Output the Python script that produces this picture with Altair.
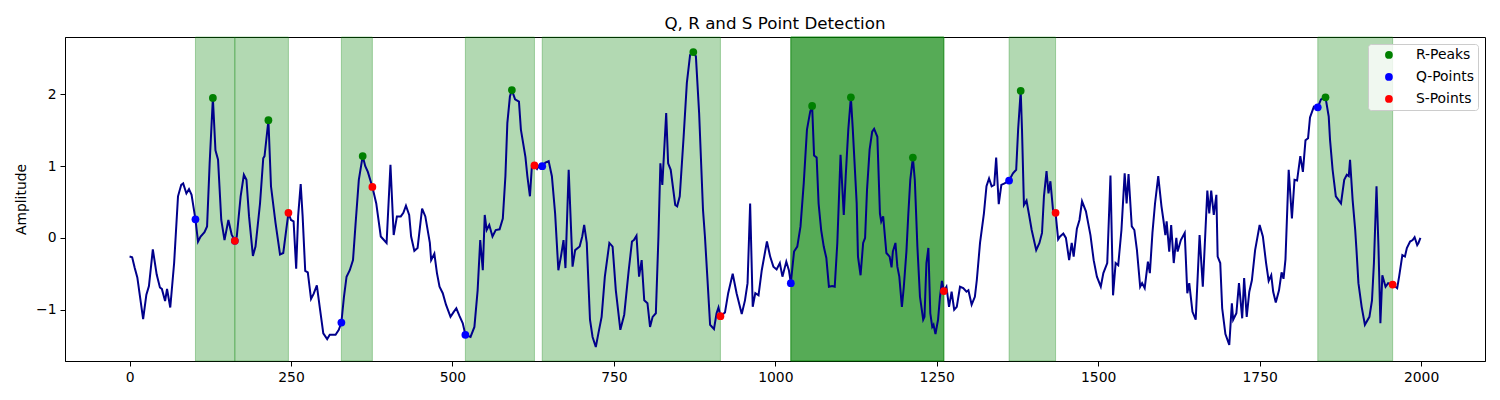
import pandas as pd
import altair as alt

# ECG-like signal (sample index, amplitude)
signal_x = [
    0, 4, 8, 12, 21, 26, 30, 36, 42, 47, 50, 55, 58, 63, 69, 75, 80, 83, 88, 92,
    96, 102, 106, 110, 116, 120, 124, 129, 133, 137, 142, 147, 153, 158, 163, 166, 172, 177, 181, 185,
    191, 195, 202, 207, 209, 215, 219, 226, 233, 238, 246, 250, 254, 258, 261, 265, 268, 272, 276, 281,
    285, 290, 295, 300, 306, 310, 319, 324, 328, 332, 336, 341, 346, 350, 355, 361, 365, 369, 376, 382,
    389, 398, 404, 409, 414, 420, 424, 428, 433, 436, 441, 446, 453, 458, 465, 467, 472, 476, 480, 485,
    490, 497, 502, 506, 511, 516, 520, 528, 534, 539, 543, 547, 550, 553, 557, 562, 567, 573, 578, 582,
    585, 589, 592, 597, 603, 606, 613, 616, 620, 623, 627, 631, 635, 639, 644, 649, 654, 659, 664, 668,
    672, 675, 680, 686, 690, 697, 701, 704, 708, 713, 717, 722, 726, 731, 736, 743, 748, 753, 760, 766,
    773, 778, 781, 785, 789, 793, 797, 802, 806, 810, 815, 819, 822, 825, 831, 834, 838, 845, 848, 852,
    858, 863, 868, 873, 877, 882, 888, 891, 895, 899, 905, 909, 912, 915, 922, 927, 934, 940, 948, 953,
    957, 961, 965, 969, 974, 979, 987, 992, 997, 1002, 1007, 1011, 1017, 1021, 1024, 1029, 1034, 1039, 1044, 1049,
    1054, 1057, 1060, 1064, 1067, 1071, 1075, 1079, 1083, 1088, 1092, 1096, 1101, 1106, 1109, 1113, 1117, 1120, 1126, 1128,
    1132, 1136, 1139, 1142, 1146, 1150, 1153, 1158, 1162, 1164, 1167, 1172, 1177, 1180, 1182, 1186, 1189, 1192, 1196, 1199,
    1203, 1206, 1209, 1213, 1216, 1220, 1224, 1229, 1231, 1234, 1237, 1240, 1243, 1245, 1248, 1252, 1255, 1258, 1261, 1265,
    1269, 1273, 1277, 1281, 1286, 1291, 1296, 1299, 1304, 1309, 1312, 1317, 1323, 1327, 1331, 1335, 1339, 1342, 1346, 1350,
    1355, 1362, 1368, 1373, 1376, 1380, 1382, 1385, 1389, 1393, 1397, 1404, 1409, 1413, 1416, 1420, 1423, 1426, 1430, 1434,
    1438, 1441, 1446, 1450, 1455, 1459, 1462, 1467, 1471, 1475, 1481, 1488, 1493, 1498, 1504, 1508, 1514, 1519, 1523, 1527,
    1531, 1536, 1541, 1544, 1547, 1552, 1556, 1560, 1565, 1568, 1572, 1577, 1580, 1584, 1588, 1593, 1598, 1601, 1604, 1606,
    1610, 1613, 1617, 1621, 1623, 1628, 1634, 1638, 1641, 1646, 1651, 1657, 1662, 1669, 1672, 1675, 1679, 1683, 1685, 1689,
    1692, 1697, 1703, 1707, 1709, 1714, 1718, 1723, 1726, 1730, 1734, 1738, 1743, 1750, 1755, 1760, 1764, 1768, 1771, 1775,
    1780, 1784, 1787, 1790, 1795, 1800, 1804, 1808, 1813, 1817, 1821, 1825, 1828, 1834, 1840, 1845, 1852, 1857, 1859, 1863,
    1868, 1872, 1876, 1881, 1885, 1888, 1890, 1894, 1898, 1900, 1903, 1908, 1913, 1920, 1924, 1927, 1931, 1934, 1937, 1940,
    1945, 1949, 1956, 1963, 1966, 1971, 1975, 1978, 1983, 1987, 1990, 1994, 1996, 1999,
]
signal_y = [
    -0.26, -0.27, -0.42, -0.55, -1.13, -0.79, -0.67, -0.16, -0.51, -0.69, -0.71, -0.88, -0.71, -0.97, -0.35, 0.58, 0.74, 0.76, 0.62, 0.68,
    0.60, 0.26, -0.05, 0.02, 0.08, 0.16, 1.04, 1.95, 1.22, 1.09, 0.25, -0.03, 0.25, 0.05, -0.04, 0.02, 0.58, 0.88, 0.81, 0.30,
    -0.25, -0.12, 0.48, 1.11, 1.14, 1.64, 0.72, 0.21, -0.23, -0.21, 0.35, 0.25, 0.23, -0.43, 0.30, 0.75, 0.30, -0.46, -0.48, -0.85,
    -0.78, -0.66, -1.00, -1.33, -1.41, -1.35, -1.35, -1.28, -1.18, -0.82, -0.54, -0.45, -0.31, 0.20, 0.81, 1.14, 1.00, 0.92, 0.71, 0.48,
    0.02, -0.07, 1.02, 0.04, 0.30, 0.30, 0.35, 0.45, 0.32, 0.02, -0.18, -0.14, 0.41, 0.30, -0.07, -0.31, -0.22, -0.49, -0.68, -0.77,
    -0.93, -1.10, -1.03, -0.98, -1.09, -1.19, -1.35, -1.38, -1.24, -0.73, -0.03, -0.45, 0.32, 0.11, 0.18, 0.02, 0.11, 0.12, 0.27, 0.86,
    1.60, 1.97, 2.06, 1.93, 1.90, 1.51, 1.13, 0.86, 0.58, 1.00, 1.01, 0.96, 1.02, 1.00, 1.05, 1.07, 0.86, 0.34, -0.45, -0.26,
    -0.03, -0.42, 0.95, -0.40, -0.17, -0.12, 0.02, 0.18, -0.07, -1.14, -1.38, -1.52, -1.33, -1.10, -0.54, -0.07, -0.12, -0.73, -1.28, -1.07,
    -0.45, -0.05, -0.03, 0.03, -0.54, -0.31, -0.87, -0.91, -1.24, -1.10, -1.05, 0.02, 1.04, 0.74, 1.74, 1.04, 0.95, 0.46, 0.44, 0.58,
    1.41, 2.16, 2.55, 2.59, 2.53, 1.74, 0.39, 0.02, -0.59, -1.21, -1.27, -1.05, -0.97, -1.09, -1.04, -0.77, -0.50, -0.77, -1.06, -0.87,
    -0.63, 0.48, -0.96, -0.77, -0.80, -0.45, -0.05, -0.26, -0.40, -0.44, -0.35, -0.54, -0.33, -0.45, -0.63, -0.19, -0.12, 0.16, 0.76, 1.51,
    1.76, 1.84, 1.15, 1.12, 0.48, 0.11, -0.12, -0.28, -0.68, -0.67, -0.68, -0.07, 1.16, 0.32, 0.86, 1.51, 1.96, 1.51, 0.48, -0.26,
    -0.52, -0.07, 0.00, 0.67, 1.23, 1.48, 1.52, 1.41, 0.34, 0.23, 0.30, -0.21, -0.26, -0.41, -0.19, -0.07, -0.40, -0.54, -0.96, -0.68,
    -0.19, 0.34, 0.81, 1.12, 0.81, -0.12, -0.82, -1.14, -1.10, -0.35, -0.14, -1.05, -1.24, -1.21, -1.34, -1.14, -0.82, -0.60, -0.74, -0.68,
    -0.96, -0.75, -1.00, -0.96, -0.68, -0.70, -0.75, -0.73, -0.93, -0.82, -0.59, -0.07, 0.34, 0.72, 0.83, 0.72, 0.74, 1.12, 0.47, 0.74,
    0.76, 0.80, 0.90, 0.95, 1.51, 2.05, 1.51, 0.46, 0.52, 0.32, 0.11, -0.17, -0.07, 0.07, 0.58, 0.93, 0.62, 0.79, 0.39, 0.35,
    -0.02, 0.02, 0.06, 0.00, -0.31, -0.07, -0.26, 0.13, 0.25, 0.51, 0.37, 0.04, -0.31, -0.54, -0.68, -0.49, -0.35, 0.87, -0.80, -0.35,
    -0.38, 0.11, 0.90, 0.48, 0.89, 0.16, 0.11, -0.17, -0.68, -0.63, -0.70, -0.33, -0.49, 0.07, 0.48, 0.86, 0.44, 0.25, 0.04, 0.23,
    -0.19, 0.18, -0.35, 0.00, -0.19, -0.03, 0.07, -0.77, -0.63, -1.03, -1.14, 0.04, -0.68, 0.66, 0.34, 0.66, 0.32, 0.60, -0.26, -0.35,
    -0.98, -1.34, -1.49, -0.91, -1.14, -1.05, -0.63, -1.12, -0.56, -1.10, -0.75, -0.59, -0.17, 0.18, 0.02, -0.35, -0.60, -0.52, -0.75, -0.90,
    -0.73, -0.48, -0.57, -0.30, 0.95, 0.27, 0.81, 0.80, 1.14, 0.92, 1.36, 1.39, 1.68, 1.83, 1.82, 1.93, 1.96, 1.69, 1.37, 0.95,
    0.58, 0.53, 0.48, 0.81, 0.88, 0.86, 1.09, 0.53, 0.11, -0.17, -0.63, -0.96, -1.21, -1.10, -0.87, -0.35, 0.72, -0.12, -1.19, -0.52,
    -0.68, -0.63, -0.65, -0.70, -0.54, -0.24, -0.26, -0.14, -0.05, -0.03, 0.01, -0.10, -0.07, 0.00,
]

# detected points
r_x = [129, 215, 361, 592, 873, 1057, 1117, 1213, 1380, 1852]
r_y = [1.95, 1.64, 1.14, 2.06, 2.59, 1.84, 1.96, 1.12, 2.05, 1.96]
q_x = [102, 163, 328, 520, 639, 1024, 1362, 1840]
q_y = [0.26, -0.04, -1.18, -1.35, 1.00, -0.63, 0.80, 1.82]
s_x = [163, 246, 376, 627, 915, 1261, 1434, 1956]
s_y = [-0.04, 0.35, 0.71, 1.01, -1.09, -0.74, 0.35, -0.65]

# QRS spans (Q -> S), the 1024-1261 one is drawn three times
span_start = [102, 163, 328, 520, 639, 1024, 1024, 1024, 1362, 1840]
span_end = [163, 246, 376, 627, 915, 1261, 1261, 1261, 1434, 1956]

FONT = "DejaVu Sans"

signal = pd.DataFrame({"x": signal_x, "y": signal_y})
spans = pd.DataFrame({"start": span_start, "end": span_end})
points = pd.concat([
    pd.DataFrame({"x": r_x, "y": r_y, "kind": "R-Peaks"}),
    pd.DataFrame({"x": q_x, "y": q_y, "kind": "Q-Points"}),
    pd.DataFrame({"x": s_x, "y": s_y, "kind": "S-Points"}),
], ignore_index=True)

x_scale = alt.Scale(domain=[-100, 2099], nice=False, zero=False)
y_scale = alt.Scale(domain=[-1.715, 2.80], nice=False, zero=False)

x_axis = alt.Axis(values=list(range(0, 2001, 250)), format="d", title=None, grid=False)
y_axis = alt.Axis(values=[-1, 0, 1, 2], format="d", title="Amplitude", grid=False,
                  labelExpr="replace(datum.label, '-', '\u2212')")

shade = alt.Chart(spans).mark_rect(
    color="green", fillOpacity=0.3, stroke="green", strokeOpacity=0.3, strokeWidth=1
).encode(
    x=alt.X("start:Q", scale=x_scale, axis=x_axis),
    x2="end:Q",
    y=alt.value(0),
    y2=alt.value(324),
)

line = alt.Chart(signal).mark_line(color="#00008b", strokeWidth=2).encode(
    x=alt.X("x:Q", scale=x_scale, axis=x_axis),
    y=alt.Y("y:Q", scale=y_scale, axis=y_axis),
)

dots = alt.Chart(points).mark_point(filled=True, opacity=1, size=60, shape="circle").encode(
    x=alt.X("x:Q", scale=x_scale),
    y=alt.Y("y:Q", scale=y_scale),
    color=alt.Color("kind:N",
                    scale=alt.Scale(domain=["R-Peaks", "Q-Points", "S-Points"],
                                    range=["green", "blue", "red"]),
                    legend=alt.Legend(title=None)),
)

chart = alt.layer(shade, line, dots).properties(
    width=1420,
    height=324,
    autosize=alt.AutoSizeParams(type="none"),
    padding={"left": 57, "top": 29, "right": 7, "bottom": 31},
    title=alt.TitleParams("Q, R and S Point Detection", font=FONT, fontSize=16.7,
                          fontWeight="normal", color="black", offset=4),
).configure_view(
    stroke="black", strokeWidth=1
).configure_axis(
    labelFont=FONT, labelFontSize=13.9, labelColor="black",
    titleFont=FONT, titleFontSize=13.9, titleFontWeight="normal", titleColor="black",
    domainColor="black", tickColor="black", tickSize=5, labelPadding=4,
).configure_axisY(
    titlePadding=7,
).configure_legend(
    orient="top-right", offset=7, padding=4, cornerRadius=3,
    fillColor="rgba(255,255,255,0.8)", strokeColor="#cccccc",
    labelFont=FONT, labelFontSize=13.9, labelColor="black",
    symbolType="circle", symbolSize=60, symbolStrokeWidth=0,
    rowPadding=7, labelOffset=20, symbolOffset=10,
)

chart.save("out.html", embed_options={"renderer": "svg", "actions": False})
